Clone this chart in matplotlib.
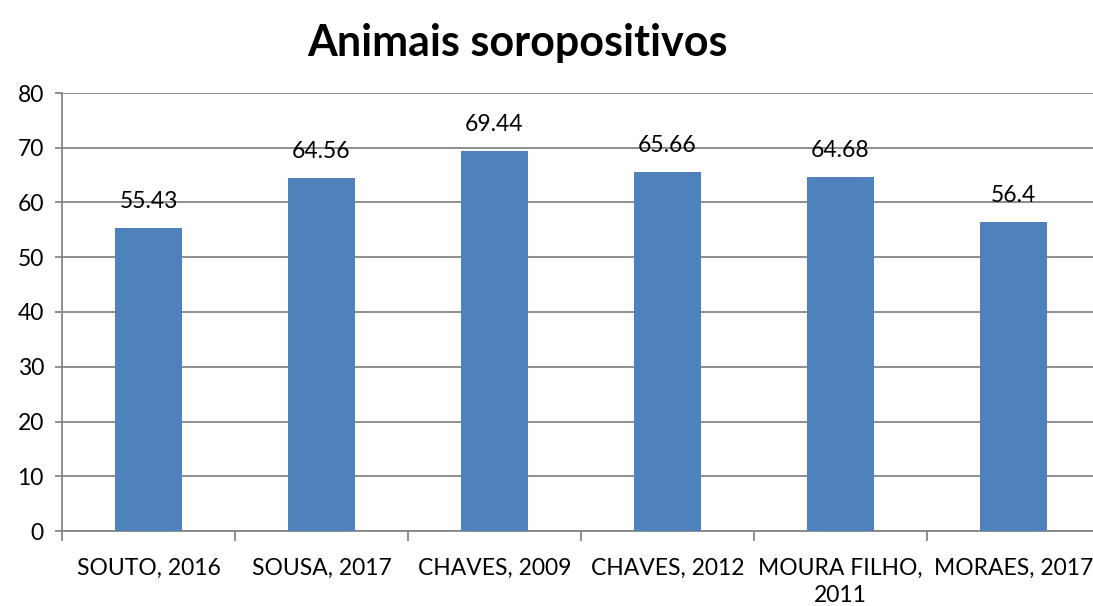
import numpy as np
import matplotlib.pyplot as plt

categories = ["SOUTO, 2016", "SOUSA, 2017", "CHAVES, 2009", "CHAVES, 2012",
              "MOURA FILHO,\n2011", "MORAES, 2017"]
values = [55.43, 64.56, 69.44, 65.66, 64.68, 56.4]
value_labels = ["55.43", "64.56", "69.44", "65.66", "64.68", "56.4"]

plt.rcParams['font.family'] = ['Lato', 'DejaVu Sans']

fig = plt.figure(figsize=(10.93, 6.06), dpi=100)
ax = fig.add_axes([62 / 1093, 75 / 606, 1038 / 1093, 438 / 606])

x = np.arange(len(categories))
bars = ax.bar(x, values, width=0.39, color="#4F81BD", zorder=3)

for xi, v, lab in zip(x, values, value_labels):
    ax.annotate(lab, (xi, v), xytext=(0, 19), textcoords="offset points",
                ha="center", va="center", fontsize=16.5)

ax.set_xlim(-0.5, len(categories) - 0.5)
ax.set_ylim(0, 80)
ax.set_yticks(np.arange(0, 81, 10))
ax.yaxis.grid(True, color="#868686", linewidth=1.3, zorder=0)

ax.set_xticks(x)
ax.set_xticklabels(categories, fontsize=16.5, linespacing=1.4)
ax.set_xticks(np.arange(-0.5, len(categories), 1), minor=True)
ax.tick_params(axis="x", which="major", length=0, pad=19)
ax.tick_params(axis="x", which="minor", length=7, color="#868686", width=1.3)
ax.tick_params(axis="y", length=5, color="#868686", width=1.3, labelsize=16.5, pad=8)

for side in ["top", "right"]:
    ax.spines[side].set_visible(False)
for side in ["left", "bottom"]:
    ax.spines[side].set_color("#868686")
    ax.spines[side].set_linewidth(1.3)

fig.text(517 / 1093, 1 - 43 / 606, "Animais soropositivos", ha="center", va="center",
         fontsize=31, fontweight="bold")

fig.savefig("out.png", dpi=100)
